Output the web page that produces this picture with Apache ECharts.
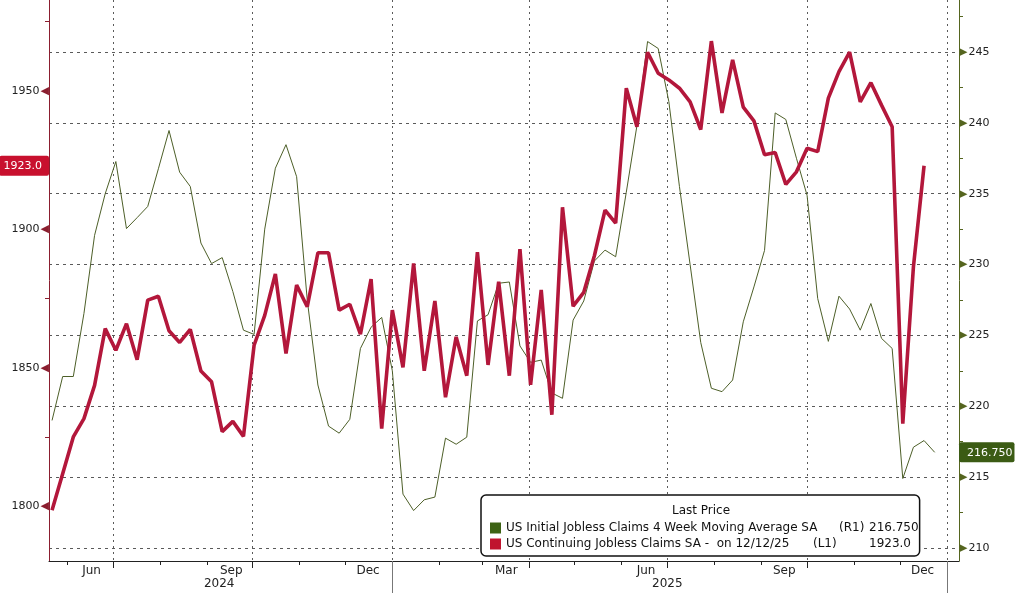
<!DOCTYPE html>
<html>
<head>
<meta charset="utf-8">
<script src="https://cdn.jsdelivr.net/npm/echarts@6/dist/echarts.min.js"></script>
<style>
html,body{margin:0;padding:0;background:#ffffff;}
#chart{width:1015px;height:593px;}
</style>
</head>
<body>
<div id="chart"></div>
<script>
// ---------- data ----------
const axisStart = '2024-05-20';
const axisEnd = '2026-01-09';
const firstWeek = '2024-05-22';

const continuingName = 'US Continuing Jobless Claims SA';
const initialName = 'US Initial Jobless Claims 4 Week Moving Average SA';
const continuingLegend = 'US Continuing Jobless Claims SA -  on 12/12/25';
const initialLegend = 'US Initial Jobless Claims 4 Week Moving Average SA';

// thousands, left axis (L1)
const continuingClaims = [
  1798.6, 1811.8, 1825.1, 1831.7, 1843.7, 1864.2, 1856.4, 1866.0, 1853.0, 1874.5,
  1875.9, 1863.4, 1859.2, 1863.9, 1848.9, 1845.0, 1827.0, 1830.7, 1825.3, 1858.2,
  1869.0, 1883.9, 1855.2, 1879.9, 1872.1, 1891.6, 1891.6, 1870.9, 1873.0, 1862.2,
  1882.1, 1828.1, 1870.9, 1850.2, 1887.7, 1849.0, 1874.2, 1839.4, 1861.2, 1847.2,
  1891.8, 1851.1, 1881.1, 1847.2, 1892.9, 1843.9, 1878.2, 1833.1, 1908.0, 1872.3,
  1877.3, 1890.5, 1907.0, 1902.3, 1951.0, 1937.1, 1964.0, 1956.4, 1954.0, 1951.0,
  1946.1, 1936.1, 1968.0, 1942.1, 1961.2, 1944.2, 1939.2, 1927.0, 1927.8, 1916.3,
  1920.8, 1929.3, 1928.1, 1947.4, 1957.0, 1964.0, 1946.1, 1953.0, 1944.9, 1937.1,
  1829.9, 1886.5, 1923.0
];

// thousands, right axis (R1)
const initialClaims4wk = [
  219.0, 222.1, 222.1, 226.55, 232.06, 235.0, 237.27, 232.54, 233.31, 234.1,
  236.76, 239.46, 236.52, 235.51, 231.52, 230.07, 230.49, 228.1, 225.37, 225.07,
  232.5, 236.8, 238.46, 236.2, 227.49, 221.5, 218.6, 218.1, 219.08, 224.08,
  225.58, 226.27, 222.5, 213.8, 212.64, 213.4, 213.59, 217.75, 217.32, 217.82,
  226.02, 226.46, 228.68, 228.77, 224.26, 223.1, 223.26, 220.94, 220.56, 226.08,
  227.43, 230.25, 231.02, 230.55, 235.1, 239.8, 245.74, 245.25, 241.5, 235.5,
  230.0, 224.5, 221.27, 221.03, 221.85, 225.96, 228.42, 231.0, 240.7, 240.24,
  237.5, 234.88, 227.6, 224.58, 227.77, 226.86, 225.37, 227.25, 224.79, 224.08,
  214.9, 217.11, 217.58, 216.75
];

const lastContinuing = 1923.0;
const lastInitial = 216.75;

const leftTickValues = [1800, 1850, 1900, 1950];
const rightTickValues = [210, 215, 220, 225, 230, 235, 240, 245];
const monthNames = ['Jan','Feb','Mar','Apr','May','Jun','Jul','Aug','Sep','Oct','Nov','Dec'];
const monthLabelDates = ['2024-06-17','2024-09-17','2024-12-16','2025-03-17','2025-06-17','2025-09-16','2025-12-16'];
const yearLabelDates = ['2024-09-09','2025-07-01'];
const yearStartDates = ['2025-01-01','2026-01-01'];

// ---------- helpers ----------
function addDays(s, n) {
  const d = new Date(s + 'T00:00:00Z');
  d.setUTCDate(d.getUTCDate() + n);
  return d.toISOString().slice(0, 10);
}
const days = [];
for (let d = axisStart; d <= axisEnd; d = addDays(d, 1)) days.push(d);
const dayIndex = {};
days.forEach((d, i) => { dayIndex[d] = i; });

const weekDates = initialClaims4wk.map((_, i) => addDays(firstWeek, 7 * i));
const redData = continuingClaims.map((v, i) => [dayIndex[weekDates[i]], v]);
const greenData = initialClaims4wk.map((v, i) => [dayIndex[weekDates[i]], v]);

const isMonthStart = (i, v) => v.slice(8) === '01';
const isQuarterStart = (i, v) => v.slice(8) === '01' && ['01','04','07','10'].includes(v.slice(5, 7));

const FONT = 'DejaVu Sans';
const RED_AXIS = '#8b1e2f';
const GREEN_AXIS = '#55651f';
const GRID = '#5a5a5a';

const chart = echarts.init(document.getElementById('chart'), null, {renderer: 'canvas'});
chart.setOption({
  animation: false,
  backgroundColor: '#ffffff',
  grid: {left: 49, right: 56, top: 0, bottom: 32, containLabel: false, outerBoundsMode: 'none'},
  title: {
    text: 'Last Price', left: 672, top: 505, padding: 0,
    textStyle: {fontFamily: FONT, fontSize: 12, fontWeight: 'normal', color: '#111'}
  },
  legend: {
    show: true, orient: 'vertical', left: 481, top: 495,
    padding: [26, 1, 5, 9], itemGap: 2, itemWidth: 11, itemHeight: 11,
    icon: 'rect', selectedMode: false,
    backgroundColor: '#ffffff', borderColor: '#111', borderWidth: 1.5, borderRadius: 5,
    itemStyle: {borderWidth: 0},
    data: [
      {name: initialName, itemStyle: {color: '#3d6314'}},
      {name: continuingName, itemStyle: {color: '#c0142e'}}
    ],
    formatter: name => name === initialName
      ? '{a1|' + initialLegend + '}{b1|(R1)}{c|' + lastInitial.toFixed(3) + '}'
      : '{a2|' + continuingLegend + '}{b2|(L1)}{c|' + lastContinuing.toFixed(1) + '}',
    textStyle: {
      fontFamily: FONT, fontSize: 12, color: '#111', lineHeight: 14,
      rich: {
        a1: {width: 333, fontFamily: FONT, fontSize: 12, color: '#111'},
        b1: {width: 30, fontFamily: FONT, fontSize: 12, color: '#111'},
        a2: {width: 307, fontFamily: FONT, fontSize: 12, color: '#111'},
        b2: {width: 56, fontFamily: FONT, fontSize: 12, color: '#111'},
        c: {fontFamily: FONT, fontSize: 12, color: '#111'}
      }
    }
  },
  xAxis: [
    {
      type: 'category', data: days, boundaryGap: false, position: 'bottom',
      axisLine: {show: true, lineStyle: {color: '#222', width: 1}},
      axisTick: {show: true, interval: isMonthStart, length: 4, lineStyle: {color: '#222'}},
      axisLabel: {
        show: true, interval: (i, v) => monthLabelDates.includes(v),
        formatter: v => monthNames[parseInt(v.slice(5, 7), 10) - 1],
        margin: 4, fontFamily: FONT, fontSize: 12, color: '#222'
      },
      splitLine: {show: true, interval: isQuarterStart, lineStyle: {color: GRID, width: 1, type: [2, 4]}}
    },
    {
      type: 'category', data: days, boundaryGap: false, position: 'bottom',
      axisLine: {show: false},
      axisTick: {show: true, interval: isQuarterStart, length: 7, lineStyle: {color: '#222'}},
      axisLabel: {show: false},
      splitLine: {show: false}
    },
    {
      type: 'category', data: days, boundaryGap: false, position: 'bottom',
      axisLine: {show: false},
      axisTick: {show: true, interval: (i, v) => yearStartDates.includes(v), length: 32, lineStyle: {color: '#777'}},
      axisLabel: {
        show: true, interval: (i, v) => yearLabelDates.includes(v),
        formatter: v => v.slice(0, 4),
        margin: 17, fontFamily: FONT, fontSize: 12, color: '#222'
      },
      splitLine: {show: false}
    }
  ],
  yAxis: [
    {
      type: 'value', position: 'left', min: 1780.3, max: 1982.85, splitNumber: 4,
      axisLine: {show: true, lineStyle: {color: RED_AXIS, width: 1}},
      axisTick: {show: false, customValues: leftTickValues},
      minorTick: {show: true, splitNumber: 2, length: 4, lineStyle: {color: RED_AXIS}},
      splitLine: {show: false},
      axisLabel: {
        show: true, customValues: leftTickValues.concat([lastContinuing]), margin: 0,
        formatter: v => Math.abs(v - lastContinuing) < 1e-6
          ? '{tag|' + lastContinuing.toFixed(1) + '}'
          : '{n|' + v + '}{t|◀}',
        rich: {
          n: {fontFamily: FONT, fontSize: 11, color: '#222', padding: [0, 1, 0, 0]},
          t: {fontFamily: FONT, fontSize: 11, color: RED_AXIS},
          tag: {fontFamily: FONT, fontSize: 11, color: '#ffffff', backgroundColor: '#c8102e', padding: [5, 7, 4, 4], borderRadius: 2}
        }
      }
    },
    {
      type: 'value', position: 'right', min: 209.08, max: 248.67, splitNumber: 8,
      axisLine: {show: true, lineStyle: {color: GREEN_AXIS, width: 1}},
      axisTick: {show: false, customValues: rightTickValues},
      minorTick: {show: true, splitNumber: 2, length: 4, lineStyle: {color: GREEN_AXIS}},
      splitLine: {show: true, lineStyle: {color: GRID, width: 1, type: [3, 4]}},
      axisLabel: {
        show: true, customValues: rightTickValues.concat([lastInitial]), margin: 0,
        formatter: v => Math.abs(v - lastInitial) < 1e-6
          ? '{tag|' + lastInitial.toFixed(3) + '}'
          : '{t|▶}{n|' + v + '}',
        rich: {
          n: {fontFamily: FONT, fontSize: 11, color: '#222', padding: [0, 0, 0, 1]},
          t: {fontFamily: FONT, fontSize: 11, color: GREEN_AXIS},
          tag: {fontFamily: FONT, fontSize: 11, color: '#ffffff', backgroundColor: '#3b5b14', padding: [5, 2, 4, 8], borderRadius: 2}
        }
      }
    }
  ],
  series: [
    {
      name: initialName, type: 'line', xAxisIndex: 0, yAxisIndex: 1,
      data: greenData, showSymbol: false, symbol: 'none', silent: true, z: 2,
      lineStyle: {color: '#4d5f28', width: 1},
      itemStyle: {color: '#3d6314'}
    },
    {
      name: continuingName, type: 'line', xAxisIndex: 0, yAxisIndex: 0,
      data: redData, showSymbol: false, symbol: 'none', silent: true, z: 3,
      lineStyle: {color: '#b3173b', width: 3.6},
      itemStyle: {color: '#c0142e'}
    }
  ]
});
</script>
</body>
</html>
